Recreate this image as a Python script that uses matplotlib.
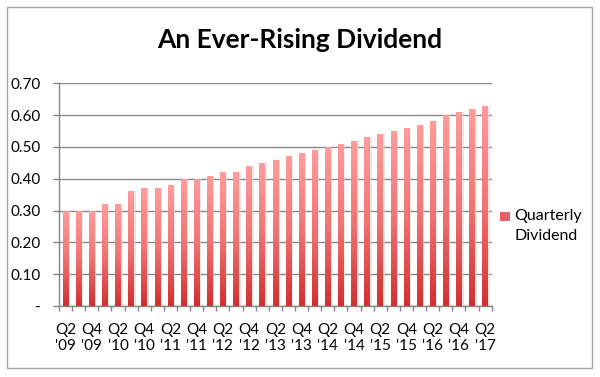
import numpy as np
import matplotlib
matplotlib.use("Agg")
import matplotlib.pyplot as plt
from matplotlib.patches import Rectangle
from matplotlib.colors import LinearSegmentedColormap

plt.rcParams['font.family'] = ['Lato', 'DejaVu Sans']

quarters = ["Q2 '09", "Q3 '09", "Q4 '09", "Q1 '10", "Q2 '10", "Q3 '10", "Q4 '10", "Q1 '11",
            "Q2 '11", "Q3 '11", "Q4 '11", "Q1 '12", "Q2 '12", "Q3 '12", "Q4 '12", "Q1 '13",
            "Q2 '13", "Q3 '13", "Q4 '13", "Q1 '14", "Q2 '14", "Q3 '14", "Q4 '14", "Q1 '15",
            "Q2 '15", "Q3 '15", "Q4 '15", "Q1 '16", "Q2 '16", "Q3 '16", "Q4 '16", "Q1 '17",
            "Q2 '17"]
dividend = [0.30, 0.30, 0.30, 0.32, 0.32, 0.36, 0.37, 0.37,
            0.38, 0.40, 0.40, 0.41, 0.42, 0.42, 0.44, 0.45,
            0.46, 0.47, 0.48, 0.49, 0.50, 0.51, 0.52, 0.53,
            0.54, 0.55, 0.56, 0.57, 0.58, 0.60, 0.61, 0.62,
            0.63]
y_ticks = [0.0, 0.1, 0.2, 0.3, 0.4, 0.5, 0.6, 0.7]
y_labels = ["-", "0.10", "0.20", "0.30", "0.40", "0.50", "0.60", "0.70"]
series_name = ["Quarterly", "Dividend"]
title = "An Ever-Rising Dividend"

fig = plt.figure(figsize=(6.0, 3.77), dpi=100)
ax = fig.add_axes([59 / 600, 71 / 377, 432.7 / 600, 222.7 / 377])

x = np.arange(len(quarters))
bars = ax.bar(x, dividend, width=0.42, color='none', edgecolor='none', zorder=3)

cmap = LinearSegmentedColormap.from_list('grad', ['#D22F2F', '#F07474', '#FF9C9C'])
grad = np.linspace(0, 1, 256).reshape(-1, 1)
for b in bars:
    x0 = b.get_x(); w = b.get_width(); h = b.get_height()
    sh = Rectangle((x0 + 0.08, 0), w + 0.06, h, facecolor='#d8d8d8', edgecolor='none',
                   alpha=0.6, zorder=2)
    ax.add_patch(sh)
    im = ax.imshow(grad, extent=[x0, x0 + w, 0, h], origin='lower', cmap=cmap,
                   aspect='auto', zorder=3, interpolation='bilinear')
    im.set_clip_path(b)

ax.set_xlim(-0.5, len(quarters) - 0.5)
ax.set_ylim(0, 0.7)

ax.set_yticks(y_ticks)
ax.set_yticklabels(y_labels)
ax.yaxis.grid(True, color='#868686', linewidth=1.0, zorder=0)
ax.set_axisbelow(True)

ax.set_xticks(np.arange(-0.5, len(quarters), 1.0))
ax.set_xticklabels([])
ax.set_xticks(x[::2], minor=True)
ax.set_xticklabels([q.replace(' ', '\n') for q in quarters[::2]], minor=True,
                   linespacing=1.2)
ax.tick_params(axis='x', which='major', length=3.6, color='#868686', width=1)
ax.tick_params(axis='x', which='minor', length=0, pad=12, labelsize=11, labelcolor='#000000')
ax.tick_params(axis='y', which='major', length=4.3, color='#868686', width=1, pad=8.5,
               labelsize=11, labelcolor='#000000')

for s in ['top', 'right']:
    ax.spines[s].set_visible(False)
for s in ['left', 'bottom']:
    ax.spines[s].set_color('#868686')
    ax.spines[s].set_linewidth(1.0)

# legend (marker aligned with first text line, as in the original)
fig.patches.append(Rectangle((500 / 600, 1 - 221 / 377), 10 / 600, 9 / 377,
                             transform=fig.transFigure, facecolor='#E86464',
                             edgecolor='none'))
fig.text(514 / 600, 1 - 216 / 377, series_name[0], ha='left', va='center', fontsize=11.5)
fig.text(514 / 600, 1 - 236 / 377, series_name[1], ha='left', va='center', fontsize=11.5)

fig.text(0.5, 1 - 40 / 377, title, ha='center', va='center', fontsize=19, fontweight='bold')

fig.patches.append(Rectangle((7 / 600, 1 - 368 / 377), 585 / 600, 361 / 377,
                             transform=fig.transFigure, facecolor='none',
                             edgecolor='#A6A6A6', linewidth=1.0))

fig.savefig('out.png', dpi=100)
